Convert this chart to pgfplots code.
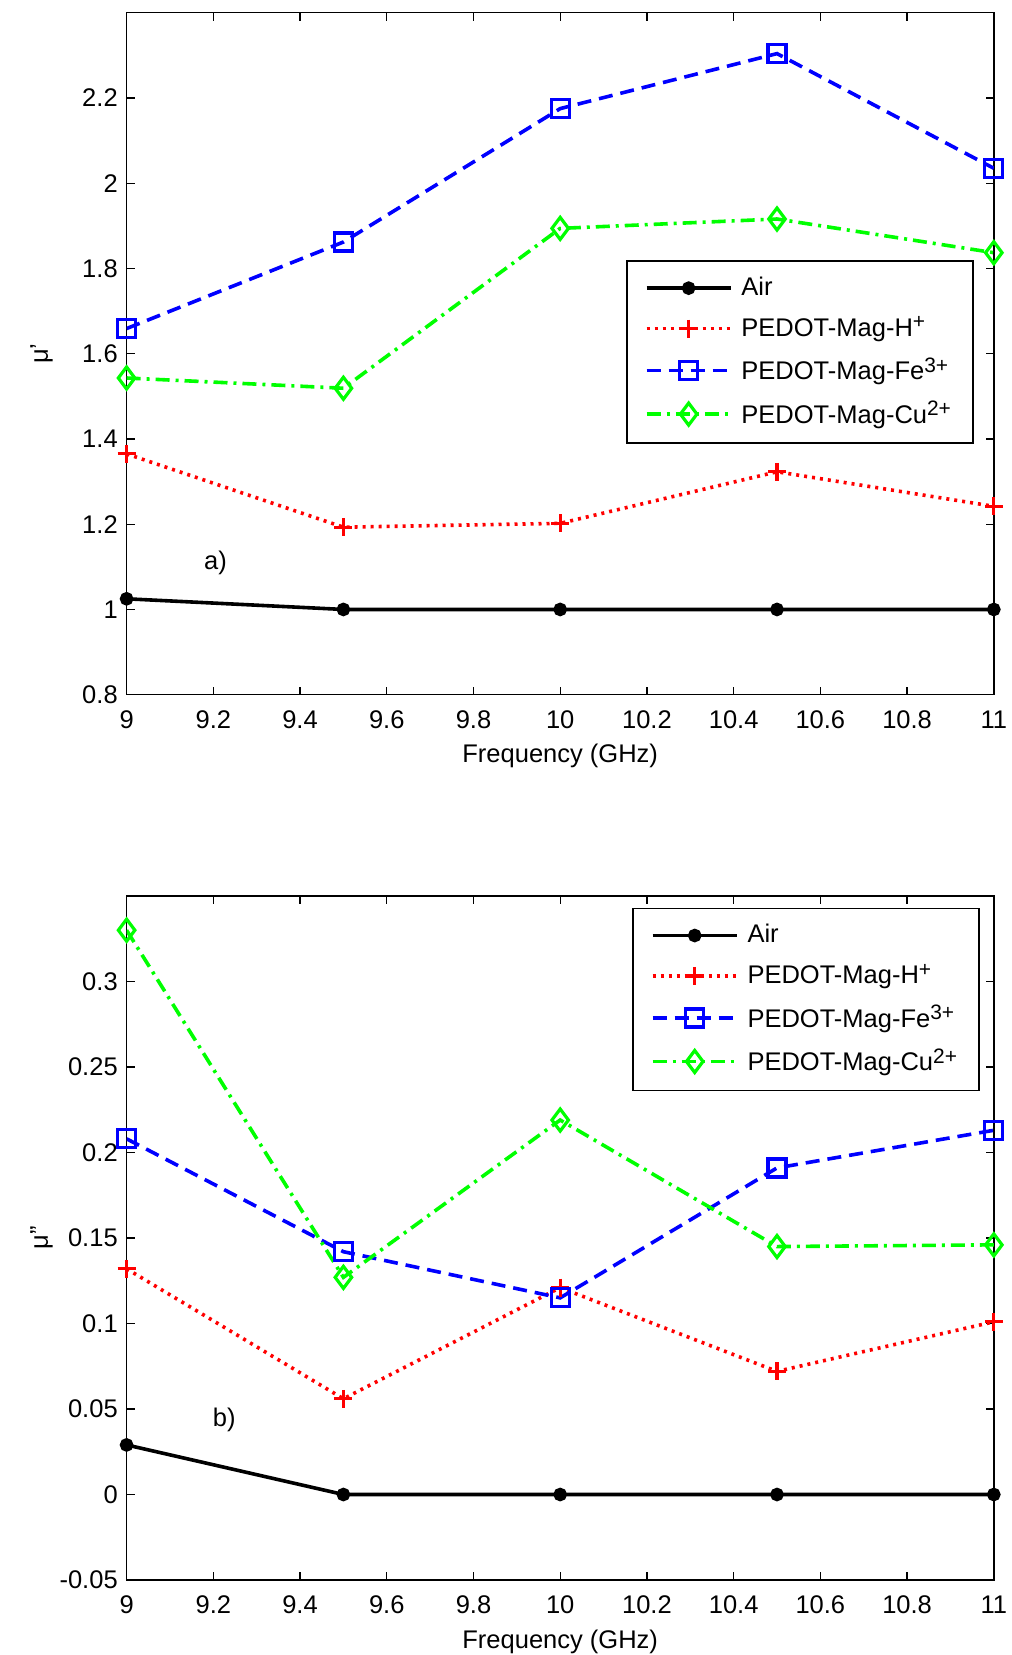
\documentclass[border=0pt]{standalone}
\usepackage{pgfplots}
\pgfplotsset{compat=1.18}
\usepackage{fontspec}
\setmainfont{Liberation Sans}
\newcommand{\supx}[1]{\raisebox{0.55ex}{\fontsize{10.5}{12}\selectfont #1}}
\begin{document}
\fontsize{12.8}{15}\selectfont
\begin{tikzpicture}
\useasboundingbox (0,0) rectangle (506bp,-827.5bp);
\pgfplotsset{
  mystyle/.style={
    scale only axis, width=433.6bp, anchor=north west,
    xmin=9, xmax=11,
    xtick={9,9.2,9.4,9.6,9.8,10,10.2,10.4,10.6,10.8,11},
    tick align=inside, major tick length=4bp,
    axis line style={line width=0.75bp},
    every tick/.style={black, line width=0.6bp},
    /pgf/number format/assume math mode=true,
    ticklabel style={font=\fontsize{12.8}{15}\selectfont},
    xticklabel style={yshift=-3.5bp},
    scaled y ticks=false, scaled x ticks=false,
    yticklabel style={/pgf/number format/fixed},
    xlabel={Frequency (GHz)},
    every axis x label/.style={at={(axis description cs:0.5,-0.09)}, anchor=center},
    every axis y label/.style={at={(axis description cs:-0.098,0.5)}, rotate=90, anchor=center},
    legend cell align=left,
    legend image code/.code={\draw[mark repeat=2,mark phase=2,##1] plot coordinates {(0bp,0bp) (21bp,0bp) (42bp,0bp)};},
    legend style={draw=black, line width=0.75bp, fill=white, anchor=north west,
      font=\fontsize{12.8}{15}\selectfont, row sep=4.8bp, column sep=2.5bp,
      inner xsep=9bp, inner ysep=6bp,
      nodes={line width=0.75bp}},
  },
  airst/.style={black, solid, line width=1.8bp, mark=*, mark size=2.5bp, mark options={solid}},
  hst/.style={red, line width=1.8bp, dash pattern=on 1.5bp off 2.5bp, mark=+, mark size=4.5bp, mark options={solid, line width=1.6bp}},
  fest/.style={blue, line width=1.8bp, dash pattern=on 7bp off 4bp, mark=square, mark size=4.5bp, mark options={solid, line width=1.6bp}},
  cust/.style={green, line width=1.8bp, dash pattern=on 7bp off 3bp on 1.5bp off 3bp, mark=diamond, mark size=5.5bp, mark options={solid, line width=1.6bp}},
}
\begin{axis}[mystyle, at={(63.3bp,-6.35bp)}, height=341bp,
  ymin=0.8, ymax=2.4, ytick={0.8,1,1.2,1.4,1.6,1.8,2,2.2},
  ylabel={μ'},
  legend style={at={(axis description cs:0.576,0.637)}}]
\addplot[airst] coordinates {(9,1.025) (9.5,1.0) (10,1.0) (10.5,1.0) (11,1.0)};
\addlegendentry{Air}
\addplot[hst] coordinates {(9,1.365) (9.5,1.193) (10,1.202) (10.5,1.323) (11,1.242)};
\addlegendentry{PEDOT-Mag-H\supx{+}}
\addplot[fest] coordinates {(9,1.659) (9.5,1.862) (10,2.175) (10.5,2.304) (11,2.035)};
\addlegendentry{PEDOT-Mag-Fe\supx{3+}}
\addplot[cust] coordinates {(9,1.543) (9.5,1.519) (10,1.894) (10.5,1.916) (11,1.837)};
\addlegendentry{PEDOT-Mag-Cu\supx{2+}}
\node at (axis cs:9.205,1.109) {a)};
\end{axis}
\begin{axis}[mystyle, at={(63.3bp,-448bp)}, height=342bp,
  ymin=-0.05, ymax=0.35, ytick={-0.05,0,0.05,0.1,0.15,0.2,0.25,0.3},
  ylabel={μ''},
  legend style={at={(axis description cs:0.583,0.983)}}]
\addplot[airst] coordinates {(9,0.029) (9.5,0) (10,0) (10.5,0) (11,0)};
\addlegendentry{Air}
\addplot[hst] coordinates {(9,0.132) (9.5,0.056) (10,0.121) (10.5,0.072) (11,0.101)};
\addlegendentry{PEDOT-Mag-H\supx{+}}
\addplot[fest] coordinates {(9,0.208) (9.5,0.142) (10,0.115) (10.5,0.191) (11,0.213)};
\addlegendentry{PEDOT-Mag-Fe\supx{3+}}
\addplot[cust] coordinates {(9,0.330) (9.5,0.127) (10,0.219) (10.5,0.145) (11,0.146)};
\addlegendentry{PEDOT-Mag-Cu\supx{2+}}
\node at (axis cs:9.225,0.0435) {b)};
\end{axis}
\end{tikzpicture}
\end{document}
